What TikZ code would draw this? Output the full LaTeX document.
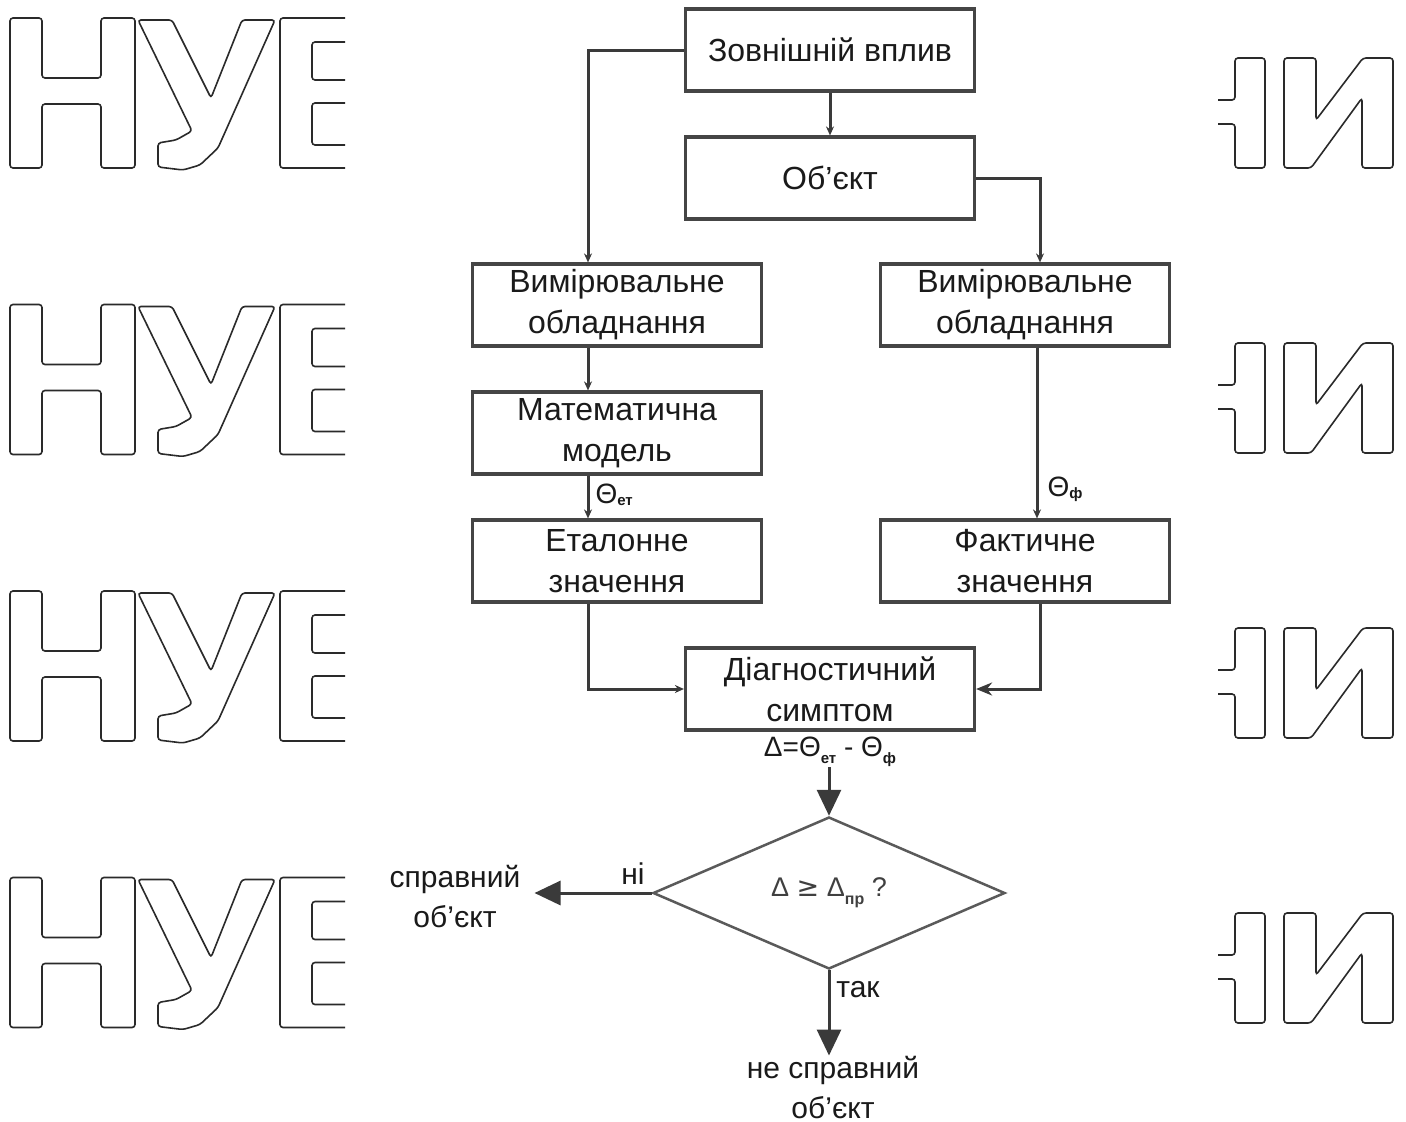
\documentclass[tikz,border=0pt]{standalone}
\usepackage{fontspec}
\setmainfont{Liberation Sans}
\newfontfamily\symfont{DejaVu Sans}
\usetikzlibrary{shapes.geometric,arrows.meta,calc}
\definecolor{boxc}{HTML}{454545}
\definecolor{linec}{HTML}{3A3A3A}
\definecolor{txt}{HTML}{1A1A1A}
\definecolor{wmc}{HTML}{2A2A2A}
\definecolor{diac}{HTML}{5A5A5A}
\definecolor{diat}{HTML}{404040}
\newcommand{\thsub}[1]{{\fontsize{28}{28}\selectfont Θ}\raisebox{-0.25em}{\fontsize{15}{15}\selectfont\bfseries #1}}
\begin{document}
\begin{tikzpicture}[x=1pt,y=-1pt,
 box/.style={draw=boxc,line width=3.2pt,minimum width=289pt,minimum height=82pt,inner sep=2pt,align=center,font=\fontsize{32}{41}\selectfont,text=txt},
 conn/.style={draw=linec,line width=3pt,-{Stealth[length=9pt,width=8pt]}},
 midconn/.style={draw=linec,line width=3pt,-{Stealth[length=16pt,width=13pt]}},
 bigconn/.style={draw=linec,line width=3pt,-{Triangle[length=26pt,width=24pt]}},
 wm/.style={draw=wmc,line width=1.6pt,rounded corners=3pt},
 lbl/.style={font=\fontsize{30}{40}\selectfont,text=txt,align=center,inner sep=0pt}]
\fill[white] (0,0) rectangle (1406,1122);
\useasboundingbox (0,0) rectangle (1406,1122);
% watermark, left
\begin{scope}
\clip (0,0) rectangle (345,1122);
\foreach \k in {0,1,2,3}{
 \pgfmathsetmacro\T{18+286.5*\k}
 \draw[wm] (10,\T) -- (42,\T) -- (42,\T+60) -- (101,\T+60) -- (101,\T) -- (135,\T) -- (135,\T+150) -- (101,\T+150) -- (101,\T+86) -- (42,\T+86) -- (42,\T+150) -- (10,\T+150) -- cycle;
 \draw[wm] (138,\T+2) -- (172,\T+2) -- (211,\T+80) -- (242,\T+2) -- (275,\T+2) -- (218,\T+130) -- (200,\T+147) -- (183,\T+152) -- (158,\T+149) -- (158,\T+125) -- (176,\T+122) -- (192,\T+113) -- cycle;
 \draw[wm] (360,\T) -- (280,\T) -- (280,\T+150) -- (360,\T+150);
 \draw[wm] (360,\T+24) -- (312,\T+24) -- (312,\T+62) -- (360,\T+62);
 \draw[wm] (360,\T+85) -- (312,\T+85) -- (312,\T+127) -- (360,\T+127);
}
\end{scope}
% watermark, right
\begin{scope}
\clip (1218,0) rectangle (1406,1122);
\foreach \k in {0,1,2,3}{
 \pgfmathsetmacro\R{58+285*\k}
 \draw[wm] (1200,\R+42) -- (1235,\R+42) -- (1235,\R) -- (1265,\R) -- (1265,\R+110) -- (1235,\R+110) -- (1235,\R+66) -- (1200,\R+66);
 \draw[wm] (1284,\R) -- (1316,\R) -- (1316,\R+62) -- (1363,\R) -- (1393,\R) -- (1393,\R+110) -- (1362,\R+110) -- (1362,\R+40) -- (1311,\R+110) -- (1284,\R+110) -- cycle;
}
\end{scope}
% boxes
\node[box] (ext) at (830,50) {Зовнішній вплив};
\node[box] (obj) at (830,178) {Об’єкт};
\node[box] (lvo) at (617,305) {Вимірювальне\\обладнання};
\node[box] (rvo) at (1025,305) {Вимірювальне\\обладнання};
\node[box] (mm) at (617,433) {Математична\\модель};
\node[box] (et) at (617,561) {Еталонне\\значення};
\node[box] (fact) at (1025,561) {Фактичне\\значення};
\node[box] (diag) at (830,689) {Діагностичний\\симптом};
% connectors
\draw[conn] (ext.west) -| ([xshift=-29pt]lvo.north);
\draw[conn] (ext.south) -- (obj.north);
\draw[conn] (obj.east) -| ([xshift=15pt]rvo.north);
\draw[conn] ([xshift=-29pt]lvo.south) -- ([xshift=-29pt]mm.north);
\draw[conn] ([xshift=-29pt]mm.south) -- node[pos=0.45,right=6pt,inner sep=0pt,text=txt] (thet) {\thsub{ет}} ([xshift=-29pt]et.north);
\draw[conn] ([xshift=12pt]rvo.south) -- node[pos=0.83,right=9pt,inner sep=0pt,text=txt] (thf) {\thsub{ф}} ([xshift=12pt]fact.north);
\draw[conn] ([xshift=-29pt]et.south) |- (diag.west);
\draw[midconn] ([xshift=15pt]fact.south) |- (diag.east);
% symptom and decision
\node[lbl] (delta) at (830,752) {{\fontsize{28}{28}\selectfont Δ=Θ}\raisebox{-0.25em}{\fontsize{15}{15}\selectfont\bfseries ет}{\fontsize{28}{28}\selectfont\ - Θ}\raisebox{-0.25em}{\fontsize{15}{15}\selectfont\bfseries ф}};
\node[draw=diac,line width=2.5pt,diamond,minimum width=352pt,minimum height=152pt,aspect=2.3,inner sep=0pt,font=\fontsize{27}{27}\selectfont,text=diat] (dia) at (829,893) {Δ {\symfont ≥} Δ\raisebox{-0.3em}{\fontsize{16}{16}\selectfont\bfseries пр} ?};
\draw[bigconn] (delta.south -| dia.north) -- (dia.north);
\node[lbl] (spr) at (455,897) {справний\\об’єкт};
\node[lbl] (nsp) at (833,1087) {не справний\\об’єкт};
\node[lbl] (ni) at (633,874) {ні};
\node[lbl] (tak) at (858,990) {так};
\draw[bigconn] (dia.west) -- ($(dia.west -| spr.east)+(14,0)$);
\draw[bigconn] (dia.south) -- (dia.south |- nsp.north);
\end{tikzpicture}
\end{document}
